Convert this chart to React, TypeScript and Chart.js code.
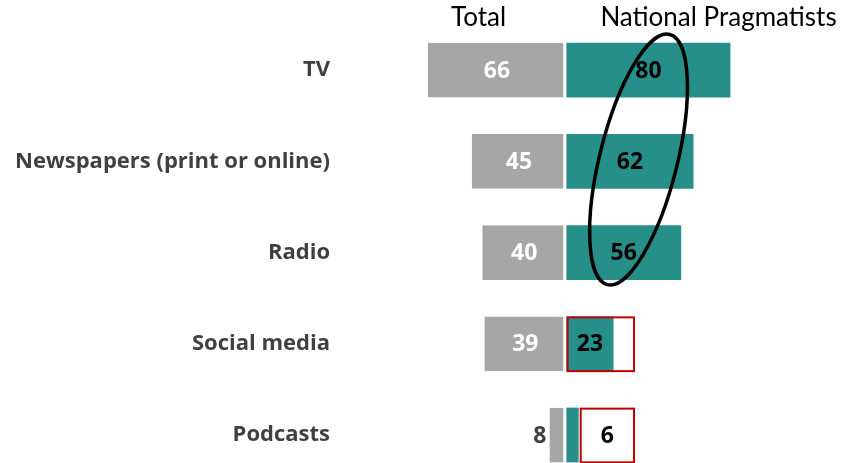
import React, { useEffect, useRef } from "react";
import { Chart, registerables } from "chart.js";

Chart.register(...registerables);

// ---- data ----
const categories = ["TV", "Newspapers (print or online)", "Radio", "Social media", "Podcasts"];
const totalValues = [66, 45, 40, 39, 8];
const pragmatistValues = [80, 62, 56, 23, 6];
const seriesNames = ["Total", "National Pragmatists"];

// ---- axis ranges (value space) ----
const totalRange = [-103, 128];
const pragRange = [-105.5, 131];
const headerValues = [-41.8, 74.2];

// ---- annotations (value space) ----
const highlightBoxes = [
  { index: 3, from: 0.6, to: 33 },
  { index: 4, from: 7, to: 33 },
];
const ellipseNote = { value: 35.2, index: 0.97, rx: 38.8, ry: 128.9, rotationDeg: 14 };

const FONT = "Lato, 'Open Sans', sans-serif";
const BOLD_FONT = "'Open Sans', Lato, sans-serif";
const GREY = "#A6A6A6";
const TEAL = "#268F8A";
const RED = "#C00000";
const LABEL_COLOR = "#404040";

const annotationPlugin = {
  id: "annotations",
  afterDatasetsDraw(chart: any) {
    const ctx = chart.ctx as CanvasRenderingContext2D;
    const xT = chart.scales.xT;
    const xN = chart.scales.xN;
    const ys = chart.scales.y;
    ctx.save();

    // headers
    ctx.font = `400 26px ${FONT}`;
    ctx.fillStyle = "#000";
    ctx.textAlign = "center";
    ctx.textBaseline = "alphabetic";
    ctx.fillText(seriesNames[0], xT.getPixelForValue(headerValues[0]), 26);
    ctx.fillText(seriesNames[1], xN.getPixelForValue(headerValues[1]), 26);

    // red highlight boxes
    ctx.strokeStyle = RED;
    ctx.lineWidth = 2;
    const pragMeta = chart.getDatasetMeta(1);
    highlightBoxes.forEach((b) => {
      const bar: any = pragMeta.data[b.index];
      const h = bar.height;
      const x0 = xN.getPixelForValue(b.from);
      const x1 = xN.getPixelForValue(b.to);
      ctx.strokeRect(x0, bar.y - h / 2 + 1, x1 - x0, h - 1);
    });

    // value labels
    ctx.font = `700 23px ${BOLD_FONT}`;
    ctx.textBaseline = "middle";
    chart.data.datasets.forEach((ds: any, di: number) => {
      const meta = chart.getDatasetMeta(di);
      const values = di === 0 ? totalValues : pragmatistValues;
      meta.data.forEach((bar: any, i: number) => {
        const text = String(values[i]);
        const tw = ctx.measureText(text).width;
        const left = Math.min(bar.x, bar.base);
        const right = Math.max(bar.x, bar.base);
        const w = right - left;
        const y = bar.y + 1;
        if (tw + 8 < w) {
          ctx.fillStyle = di === 0 ? "#FFFFFF" : "#000000";
          ctx.textAlign = "center";
          ctx.fillText(text, (left + right) / 2, y);
        } else if (di === 0) {
          ctx.fillStyle = LABEL_COLOR;
          ctx.textAlign = "right";
          ctx.fillText(text, left - 3, y);
        } else {
          const box = highlightBoxes.find((b) => b.index === i);
          ctx.fillStyle = "#000000";
          ctx.textAlign = "center";
          const cx = box
            ? (xN.getPixelForValue(box.from) + xN.getPixelForValue(box.to)) / 2
            : right + 4 + tw / 2;
          ctx.fillText(text, cx, y);
        }
      });
    });

    // ellipse
    const i0 = Math.floor(ellipseNote.index);
    const frac = ellipseNote.index - i0;
    const cy = ys.getPixelForValue(i0) + frac * (ys.getPixelForValue(i0 + 1) - ys.getPixelForValue(i0));
    const cx = xN.getPixelForValue(ellipseNote.value);
    ctx.beginPath();
    ctx.ellipse(cx, cy + 1, ellipseNote.rx, ellipseNote.ry, (ellipseNote.rotationDeg * Math.PI) / 180, 0, Math.PI * 2);
    ctx.strokeStyle = "#000";
    ctx.lineWidth = 3.5;
    ctx.stroke();

    ctx.restore();
  },
};

export default function App() {
  const ref = useRef<HTMLCanvasElement | null>(null);
  useEffect(() => {
    if (!ref.current) return;
    const chart = new Chart(ref.current, {
      type: "bar",
      data: {
        labels: categories,
        datasets: [
          {
            label: seriesNames[0],
            data: totalValues.map((v) => -v),
            xAxisID: "xT",
            backgroundColor: GREY,
            borderColor: "#FFFFFF",
            borderWidth: { top: 0, right: 3, bottom: 0, left: 0 } as any,
            borderSkipped: false,
            grouped: false,
            barPercentage: 0.6,
            categoryPercentage: 1,
            clip: false as any,
          },
          {
            label: seriesNames[1],
            data: pragmatistValues,
            xAxisID: "xN",
            backgroundColor: TEAL,
            borderWidth: 0,
            grouped: false,
            barPercentage: 0.6,
            categoryPercentage: 1,
            clip: false as any,
          },
        ],
      },
      options: {
        indexAxis: "y",
        responsive: false,
        animation: false,
        layout: { padding: { top: 70, bottom: 28, right: 8, left: 0 } },
        plugins: { legend: { display: false }, tooltip: { enabled: false } },
        scales: {
          xT: {
            type: "linear",
            position: "bottom",
            display: false,
            min: totalRange[0],
            max: totalRange[1],
          },
          xN: {
            type: "linear",
            position: "bottom",
            display: false,
            min: pragRange[0],
            max: pragRange[1],
          },
          y: {
            type: "category",
            offset: false,
            grid: { display: false, drawTicks: false },
            border: { display: false },
            ticks: {
              padding: 20,
              color: LABEL_COLOR,
              font: { family: BOLD_FONT, size: 22, weight: "bold" },
            },
            afterFit: (scale: any) => {
              scale.width = 350;
              scale.paddingTop = 0;
              scale.paddingBottom = 0;
            },
          },
        },
      } as any,
      plugins: [annotationPlugin],
    });
    return () => chart.destroy();
  }, []);

  return (
    <div style={{ position: "absolute", left: 0, top: 0, width: 843, height: 463 }}>
      <canvas ref={ref} width={843} height={463} style={{ display: "block" }} />
    </div>
  );
}
